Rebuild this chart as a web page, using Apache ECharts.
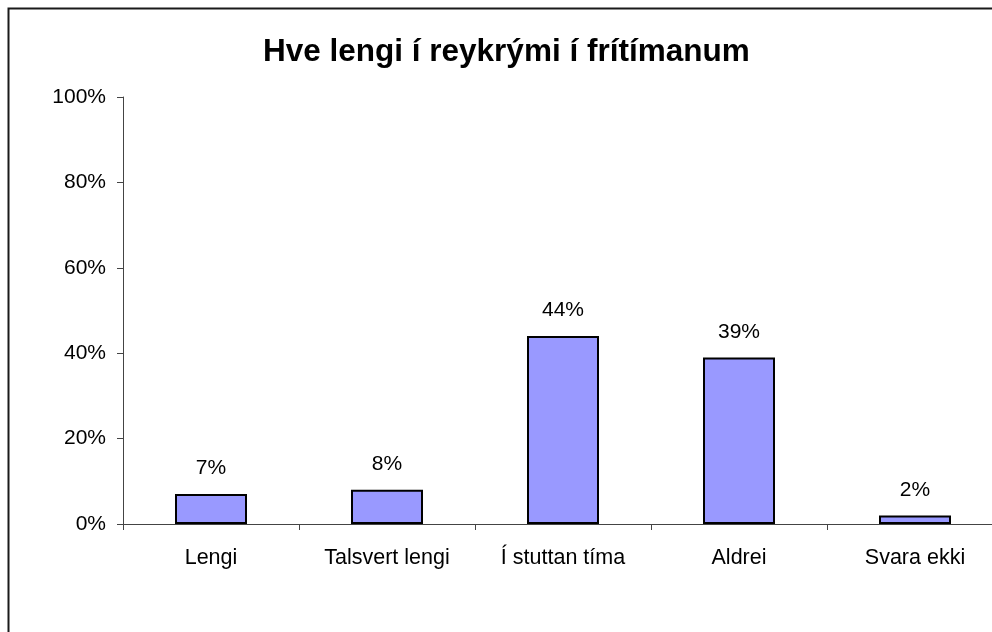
<!DOCTYPE html>
<html>
<head>
<meta charset="utf-8">
<script src="https://cdn.jsdelivr.net/npm/echarts@6/dist/echarts.min.js"></script>
<style>
  html, body { margin: 0; padding: 0; background: #fff; overflow: hidden; }
  /* 原图右侧被裁掉，画布比窗口宽一点 */
  #main { width: 1010px; height: 632px; }
</style>
</head>
<body>
<div id="main"></div>
<script>
var categories = ['Lengi', 'Talsvert lengi', 'Í stuttan tíma', 'Aldrei', 'Svara ekki'];
var values = [7, 8, 44, 39, 2];
var yTicks = [0, 20, 40, 60, 80, 100];

var chart = echarts.init(document.getElementById('main'));

// 图表配置
var option = {
    animation: false,
    backgroundColor: '#fff',
    textStyle: { fontFamily: 'Liberation Sans, Arial, sans-serif' },
    title: {
        text: 'Hve lengi í reykrými í frítímanum',
        left: 258,
        top: 31,
        textStyle: {
            fontFamily: 'Liberation Sans, Arial, sans-serif',
            fontSize: 31.5,
            fontWeight: 'bold',
            color: '#000'
        }
    },
    // 外框 (右侧和底部被裁掉)
    graphic: [{
        type: 'rect',
        left: 6,
        top: 6,
        silent: true,
        shape: { width: 1100, height: 700 },
        style: { fill: 'none', stroke: '#1a1a1a', lineWidth: 2 }
    }],
    grid: {
        left: 123,
        top: 97,
        right: 7,
        bottom: 108
    },
    xAxis: {
        type: 'category',
        data: categories,
        axisLine: { lineStyle: { color: '#444', width: 1 } },
        axisTick: { show: true, length: 6, lineStyle: { color: '#444' } },
        axisLabel: {
            margin: 23,
            fontSize: 21.5,
            color: '#000',
            interval: 0
        }
    },
    yAxis: {
        type: 'value',
        min: yTicks[0],
        max: yTicks[yTicks.length - 1],
        interval: yTicks[1] - yTicks[0],
        axisLine: { show: true, lineStyle: { color: '#444', width: 1 } },
        axisTick: { show: true, length: 6, lineStyle: { color: '#444' } },
        splitLine: { show: false },
        axisLabel: {
            margin: 17,
            fontSize: 21,
            color: '#000',
            formatter: '{value}%'
        }
    },
    series: [{
        type: 'bar',
        data: values,
        barWidth: 72,
        itemStyle: {
            color: '#9999FF',
            borderColor: '#000',
            borderWidth: 2
        },
        label: {
            show: true,
            position: 'top',
            distance: 15,
            fontSize: 21,
            color: '#000',
            formatter: '{c}%'
        }
    }]
};

chart.setOption(option);
</script>
</body>
</html>
